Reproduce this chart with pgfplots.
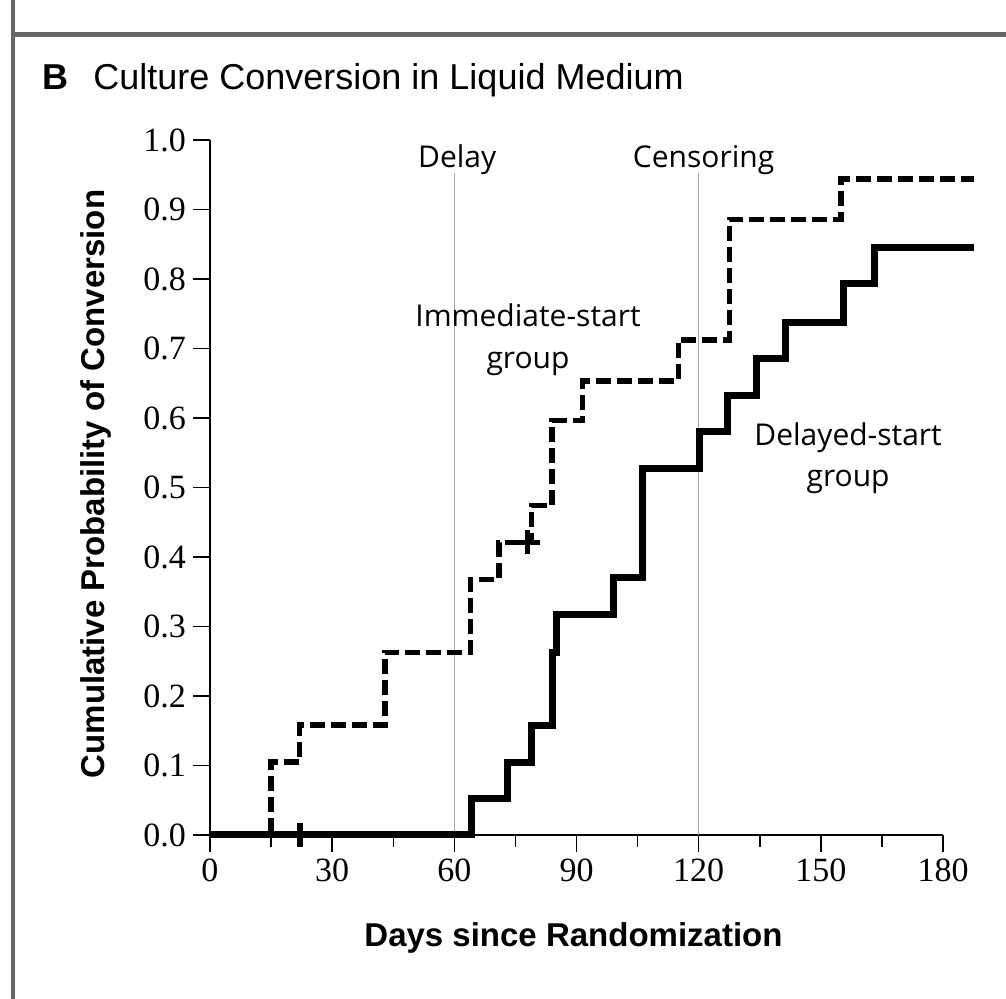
\documentclass[border=0pt]{standalone}
\usepackage{fontspec}
\setmainfont{Liberation Serif}
\newfontfamily\labfont{Liberation Sans}
\newfontfamily\annfont{Open Sans}
\usepackage{pgfplots}
\pgfplotsset{compat=1.18}

\begin{document}
\begin{tikzpicture}
\path[use as bounding box] (-105pt,-82pt) rectangle (398pt,417.5pt);
\draw[black!60, line width=2pt] (-98.5pt,-82pt) -- (-98.5pt,417.5pt);
\draw[black!60, line width=2.5pt] (-99.5pt,400pt) -- (398pt,400pt);
\node[anchor=base west, inner sep=0] at (-84pt,372.5pt) {\labfont\bfseries\fontsize{18}{20}\selectfont B};
\node[anchor=base west, inner sep=0] at (-58.5pt,372.5pt) {\labfont\fontsize{18}{20}\selectfont Culture Conversion in Liquid Medium};
\begin{axis}[
  at={(0,0)}, anchor=south west,
  scale only axis, width=366.5pt, height=347.5pt,
  xmin=0, xmax=180, ymin=0, ymax=1,
  axis x line*=bottom, axis y line*=left,
  clip=false,
  xtick={0,30,...,180}, minor xtick={15,45,...,165},
  ytick={0,0.1,0.2,0.3,0.4,0.5,0.6,0.7,0.8,0.9,1.0},
  tick align=outside,
  major tick length=8.5pt, minor tick length=6pt,
  every tick/.style={black, line width=0.75pt},
  axis line style={line width=0.75pt},
  tick label style={font=\fontsize{17}{19}\selectfont},
  /pgf/number format/assume math mode=true,
  yticklabel style={/pgf/number format/.cd, fixed, fixed zerofill, precision=1},
]
\draw[black!35, line width=0.8pt] (axis cs:60,0) -- (axis cs:60,0.953);
\draw[black!35, line width=0.8pt] (axis cs:120,0) -- (axis cs:120,0.953);

\addplot[black, line width=2.7pt, dash pattern=on 7.5pt off 3pt, const plot, mark=none] coordinates {
(0,0) (15,0.105) (22,0.158) (43,0.263) (64,0.368) (71,0.421) (79,0.474) (84,0.596) (91.5,0.653) (115,0.712) (127.5,0.886) (155,0.944) (187.5,0.944)
};
\addplot[black, line width=3.5pt, const plot, mark=none] coordinates {
(0,0) (64.3,0.053) (73,0.105) (79,0.158) (84.2,0.263) (85,0.317) (99.2,0.370) (106.1,0.528) (120.3,0.580) (127.2,0.633) (134.3,0.686) (141.2,0.738) (155.5,0.794) (163.3,0.845) (187.5,0.845)
};
\addplot[only marks, mark=|, mark size=6pt, black, line width=3pt] coordinates {(22,0)};
\addplot[only marks, mark=+, mark size=6pt, black, line width=2.5pt] coordinates {(78,0.421)};

\node[anchor=base, inner sep=0, font=\annfont\fontsize{15}{17}\selectfont] at (axis cs:60.7,0.960) {Delay};
\node[anchor=base, inner sep=0, font=\annfont\fontsize{15}{17}\selectfont] at (axis cs:121.2,0.960) {Censoring};
\node[anchor=base, inner sep=0, font=\annfont\fontsize{15}{17}\selectfont] at (axis cs:78.1,0.731) {Immediate-start};
\node[anchor=base, inner sep=0, font=\annfont\fontsize{15}{17}\selectfont] at (axis cs:78.1,0.671) {group};
\node[anchor=base, inner sep=0, font=\annfont\fontsize{15}{17}\selectfont] at (axis cs:156.7,0.561) {Delayed-start};
\node[anchor=base, inner sep=0, font=\annfont\fontsize{15}{17}\selectfont] at (axis cs:156.7,0.501) {group};
\end{axis}
\node[anchor=base, inner sep=0, font=\labfont\bfseries\fontsize{16.5}{18}\selectfont] at (181.75pt,-56pt) {Days since Randomization};
\node[rotate=90, anchor=base, inner sep=0, font=\labfont\bfseries\fontsize{16.5}{18}\selectfont] at (-52.5pt,175.5pt) {Cumulative Probability of Conversion};
\end{tikzpicture}
\end{document}
